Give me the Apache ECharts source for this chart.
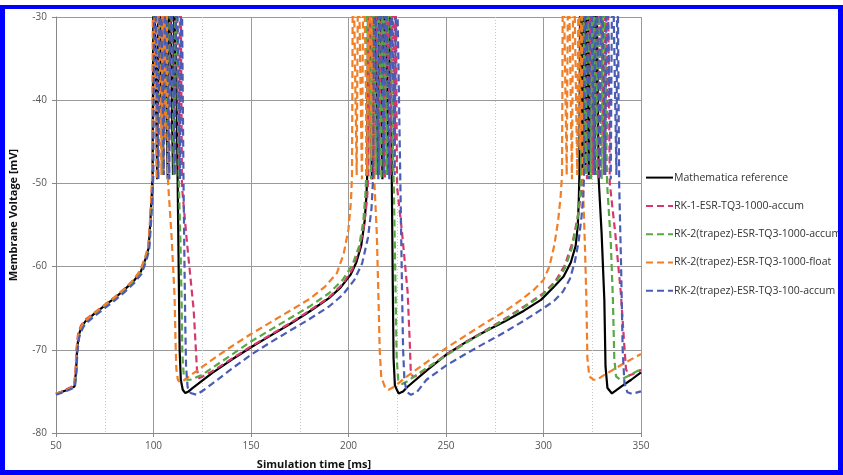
<!DOCTYPE html>
<html>
<head>
<meta charset="utf-8">
<script src="https://cdn.jsdelivr.net/npm/echarts@6/dist/echarts.min.js"></script>
<style>
html,body{margin:0;padding:0;background:#fff;}
#chart{position:absolute;left:0;top:0;width:843px;height:475px;}
#frame{position:absolute;left:0;top:5px;width:843px;height:470px;box-sizing:border-box;border:5px solid #0000ff;border-top-width:4px;pointer-events:none;z-index:10;}
</style>
</head>
<body>
<div id="chart"></div>
<div id="frame"></div>
<script>
// ---- data (time in ms, membrane voltage in mV); spike peaks lie above the visible range ----
const seriesNames = [
  'Mathematica reference',
  'RK-1-ESR-TQ3-1000-accum',
  'RK-2(trapez)-ESR-TQ3-1000-accum',
  'RK-2(trapez)-ESR-TQ3-1000-float',
  'RK-2(trapez)-ESR-TQ3-100-accum'
];
const xTicks = [50, 100, 150, 200, 250, 300, 350];
const yTicks = [-80, -70, -60, -50, -40, -30];

const mathematicaRef = [
  [50,-75.3],[55,-74.9],[59.5,-74.4],[60.3,-72.5],[60.8,-70],[61.6,-68.3],[63,-67.3],[65,-66.6],[70,-65.6],[75,-64.7],[80,-63.8],[85,-62.8],[90,-61.7],[93.5,-60.6],[96,-59],[97.5,-57.8],[98.4,-54.5],[99.1,-51.5],[99.5,-49],
  [100.1,-20],[101.9,-49.5],[102.7,-20],[104.6,-49],[105.4,-20],[107.3,-49.5],[108.1,-20],[110.0,-49],[110.8,-20],[112.4,-50],[112.9,-60],[113.4,-70],[114,-73.6],[115,-74.8],[116.3,-75.2],[118,-75.0],[120,-74.6],
  [130,-72.8],[140,-71.2],[150,-69.7],[160,-68.3],[170,-66.9],[180,-65.4],[190,-63.8],[196,-62.5],[201,-61],[204,-59.5],[206.5,-57.5],[208.3,-54.5],[209.2,-51.5],[209.6,-49],
  [210.2,-20],[212,-49.5],[212.8,-20],[214.7,-49],[215.5,-20],[217.4,-49.5],[218.2,-20],[220.1,-49],[220.9,-20],[222.2,-49.5],[222.7,-62],[223.1,-71],[223.8,-74.3],[225.7,-75.25],[228,-75],[230,-74.5],
  [240,-72.5],[250,-70.6],[260,-69.1],[270,-67.8],[280,-66.6],[290,-65.3],[298.7,-64],[305,-62.5],[310.3,-61.2],[314,-59.5],[316.5,-57.5],[317.6,-55],[318.1,-52],[318.4,-49],
  [318.9,-20],[320.0,-49],[320.5,-20],[321.6,-48.5],[322.1,-20],[323.2,-49],[323.7,-20],[324.8,-48.5],[325.3,-20],[326.4,-49],[326.9,-20],[328.3,-49.5],[329.8,-56],[331.2,-64],[331.8,-72],[332.8,-74.6],[335.1,-75.25],[340,-74.4],[345,-73.6],[350,-72.7]
];

const rk1Accum1000 = [
  [50,-75.3],[55,-74.8],[59.3,-74.3],[60,-72.5],[60.5,-70],[61.3,-68.1],[62.8,-67.1],[65,-66.4],[70,-65.5],[75,-64.6],[80,-63.7],[85,-62.7],[90,-61.6],[93.4,-60.5],[95.9,-58.9],[97.4,-57.7],[98.3,-54.5],[99.1,-51.5],[99.6,-49],
  [100.3,-20],[102.3,-49.5],[103.1,-20],[105.1,-49],[105.9,-20],[107.9,-49.5],[108.7,-20],[110.7,-49],[111.5,-20],[113.1,-48.5],[113.8,-20],[114.6,-50.4],[117.2,-57.2],[120.6,-65.2],[122.3,-72.4],[123.2,-73.4],[124.5,-73.3],[126,-73.1],[130,-72.6],
  [140,-71.1],[150,-69.6],[160,-68.2],[170,-66.8],[180,-65.3],[190,-63.7],[197,-62.1],[202,-60.3],[205.5,-58],[208,-55],[209.5,-52],[210.2,-49],
  [210.8,-20],[212.9,-49.5],[213.7,-20],[215.8,-49],[216.6,-20],[218.7,-49.5],[219.5,-20],[221.6,-49],[222.4,-20],[223.6,-45],[224.0,-20],[224.9,-50.4],[227.5,-56],[230.3,-63],[231.4,-69],[231.9,-72.4],[233,-73.3],[235,-73.1],
  [240,-72.3],[250,-70.6],[260,-69.1],[270,-67.7],[280,-66.3],[290,-64.8],[300,-63.2],[306,-61.8],[311,-59.8],[315,-57],[318,-53.5],[319.3,-51],[319.7,-49],
  [320.2,-20],[322.3,-49.5],[323.1,-20],[325.2,-49],[326,-20],[328.1,-49.5],[328.9,-20],[331,-49],[331.8,-20],[332.4,-45],[332.8,-20],[334,-50],[336.8,-56],[339.6,-63],[341.3,-69],[342.3,-72.3],[343.6,-73.1],[346,-72.9],[350,-72.4]
];

const rk2Accum1000 = [
  [50,-75.3],[55,-74.9],[59.6,-74.4],[60.4,-72.5],[60.9,-70],[61.7,-68.3],[63.2,-67.3],[65,-66.7],[70,-65.7],[75,-64.8],[80,-63.9],[85,-62.9],[90,-61.8],[93.6,-60.7],[96.1,-59.1],[97.6,-57.9],[98.6,-54.5],[99.3,-51.5],[99.7,-49],
  [100.2,-20],[102,-49.5],[102.9,-20],[104.8,-49],[105.7,-20],[107.6,-49.5],[108.5,-20],[110.4,-49],[111.3,-20],[113,-50],[113.8,-57],[114.4,-64],[114.8,-70.5],[115.5,-73],[117,-73.6],[119,-73.6],[125,-73],
  [130,-72.2],[140,-70.6],[150,-69.0],[160,-67.6],[170,-66.2],[180,-64.8],[190,-63.2],[197,-61.6],[202,-59.8],[205.5,-57.5],[207.6,-54.5],[208.6,-51.5],[209.1,-49],
  [209.6,-20],[211.5,-49.5],[212.3,-20],[214.2,-49],[215,-20],[216.9,-49.5],[217.7,-20],[219.6,-49],[220.5,-20],[223.2,-50],[223.8,-58],[224.2,-64],[224.7,-71],[225.5,-73.6],[227.5,-74.1],[230,-73.8],
  [240,-72.2],[250,-70.7],[260,-69.2],[270,-67.8],[280,-66.4],[290,-64.9],[300,-63.3],[306,-62],[311,-60.2],[314.5,-57.8],[317,-55],[318.6,-52],[319.3,-49],
  [319.8,-20],[321.7,-49],[322.5,-20],[324.4,-49.5],[325.2,-20],[327.1,-49],[327.9,-20],[329.8,-49.5],[330.6,-20],[332.6,-50],[334.5,-57],[335.6,-64],[336.3,-71],[337.2,-73.2],[339.4,-73.6],[344,-73.1],[350,-72.3]
];

const rk2Float1000 = [
  [50,-75.3],[55,-74.9],[59.3,-74.4],[60.1,-72.5],[60.6,-70],[61.4,-68.2],[63,-67.2],[65,-66.5],[70,-65.5],[75,-64.6],[80,-63.7],[85,-62.7],[90,-61.5],[93.3,-60.4],[95.8,-58.8],[97.3,-57.5],[98.2,-54.5],[98.9,-51.5],[99.3,-49],
  [99.8,-20],[101.6,-49.5],[102.3,-20],[104.1,-49],[104.8,-20],[106.0,-45],[106.6,-20],[107.5,-50],[109.3,-56.5],[110.8,-63.5],[111.3,-69],[111.7,-72.3],[112.5,-73.6],[113.5,-73.9],[116,-73.6],[120,-72.9],
  [130,-71.2],[140,-69.6],[150,-68.1],[160,-66.7],[170,-65.3],[180,-63.9],[188,-62.4],[194,-60.8],[197.5,-58.5],[200,-55.5],[201.3,-52],[201.8,-49],
  [202.3,-20],[204.2,-49],[205,-20],[206.9,-49.5],[207.7,-20],[209.6,-49],[210.4,-20],[211.9,-47],[212.6,-20],[213.3,-50],[214.5,-56],[215.4,-64],[216,-70],[216.8,-73.3],[218.9,-74.6],[220.6,-74.8],[223,-74.5],[230,-73.2],
  [240,-71.5],[250,-69.8],[260,-68.3],[270,-66.8],[280,-65.4],[288.5,-64],[295,-62.8],[300,-61.6],[303,-60],[305.5,-57.5],[307.5,-54.5],[308.8,-51.5],[309.5,-49],
  [310,-20],[311.9,-49],[312.7,-20],[314.6,-49.5],[315.4,-20],[317.3,-49],[318.1,-20],[318.8,-46],[319.3,-20],[320.2,-50],[321.3,-58],[322,-64],[322.5,-71],[323.5,-73.2],[325.7,-73.6],[327.5,-73.6],[330,-73.2],[340,-71.8],[350,-70.5]
];

const rk2Accum100 = [
  [50,-75.4],[55,-75],[59.7,-74.5],[60.5,-72.6],[61,-70.2],[61.9,-68.5],[63.5,-67.5],[65,-66.9],[70,-65.9],[75,-65.0],[80,-64.1],[85,-63.1],[90,-62],[93.8,-60.9],[96.3,-59.3],[97.8,-58],[98.8,-54.5],[99.5,-51.5],[99.9,-49],
  [100.5,-20],[102.5,-49.5],[103.3,-20],[105.3,-49],[106.1,-20],[108.1,-49.5],[108.9,-20],[110.9,-49],[111.7,-20],[113.6,-49.5],[114.3,-20],[115.4,-50],[115.9,-60],[116.3,-67],[116.7,-72],[117.5,-74.5],[119,-75.2],[122,-75.4],[126,-74.8],[130,-74.1],
  [140,-72.3],[150,-70.6],[160,-69.1],[170,-67.7],[180,-66.3],[190,-64.8],[197,-63.4],[203,-61.6],[207,-59.6],[210,-56.5],[211.8,-53],[212.7,-49],
  [213.3,-20],[215.3,-49.5],[216.1,-20],[218.1,-49],[218.9,-20],[220.9,-49.5],[221.7,-20],[223.7,-49],[224.5,-20],[226.6,-50],[227.4,-62],[228,-70],[228.7,-73.8],[230,-75.1],[232,-75.4],[235,-75.1],
  [240,-73.6],[250,-71.9],[260,-70.5],[267.6,-69.5],[280,-67.9],[290,-66.5],[300,-65.0],[305.5,-64.1],[310,-63],[313.5,-61.5],[316,-59.5],[318,-57],[319.5,-54],[320.4,-51.5],[320.8,-49],
  [321.3,-20],[323.3,-49.5],[324.1,-20],[326.1,-49],[326.9,-20],[328.9,-49.5],[329.7,-20],[331.7,-49],[332.5,-20],[334.5,-49.5],[335.3,-20],[337.4,-49],[337.9,-20],[338.8,-50],[339.8,-60],[340.6,-70],[341.5,-74],[343,-75.1],[345.4,-75.3],[350,-75.0]
];

const seriesData = [mathematicaRef, rk1Accum1000, rk2Accum1000, rk2Float1000, rk2Accum100];

// ---- styles ----
const colors = ['#000000', '#d6386c', '#58a845', '#f07f28', '#4b5cb5'];
const dashed = [false, true, true, true, true];
const FONT = 'Open Sans';

const chart = echarts.init(document.getElementById('chart'), null, {renderer: 'canvas'});
chart.setOption({
  animation: false,
  backgroundColor: '#ffffff',
  grid: {left: 56, right: 202, top: 17, bottom: 42, containLabel: false},
  legend: {
    orient: 'vertical', left: 645, top: 172, padding: 0,
    itemWidth: 27, itemHeight: 14, itemGap: 17.1,
    data: seriesNames,
    itemStyle: {opacity: 0, borderWidth: 0},
    textStyle: {fontFamily: FONT, fontSize: 10.5, color: '#333', padding: [0, 0, 0, -4]}
  },
  xAxis: {
    type: 'value', min: xTicks[0], max: xTicks[xTicks.length - 1], interval: 50,
    name: 'Simulation time [ms]', nameLocation: 'middle', nameGap: 26,
    nameTextStyle: {fontFamily: FONT, fontWeight: 'bold', fontSize: 11, color: '#111', padding: [0, 69, 0, 0]},
    axisLine: {show: true, lineStyle: {color: '#888', width: 1}},
    axisTick: {show: true, length: 4, lineStyle: {color: '#888'}},
    axisLabel: {fontFamily: FONT, fontSize: 10, color: '#555', margin: 8},
    splitLine: {show: true, lineStyle: {color: '#9a9a9a', width: 1}},
    minorTick: {show: false, splitNumber: 2},
    minorSplitLine: {show: true, lineStyle: {color: '#c8c8c8', width: 1, type: [1, 2]}}
  },
  yAxis: {
    type: 'value', min: yTicks[0], max: yTicks[yTicks.length - 1], interval: 10,
    name: 'Membrane Voltage [mV]', nameLocation: 'middle', nameGap: 37,
    nameTextStyle: {fontFamily: FONT, fontWeight: 'bold', fontSize: 11, color: '#111', padding: [0, 0, 0, 20]},
    axisLine: {show: true, lineStyle: {color: '#888', width: 1}},
    axisTick: {show: true, length: 4, lineStyle: {color: '#888'}},
    axisLabel: {fontFamily: FONT, fontSize: 10, color: '#555', margin: 9},
    splitLine: {show: true, lineStyle: {color: '#9a9a9a', width: 1}}
  },
  series: seriesNames.map((name, i) => ({
    name: name,
    type: 'line',
    data: seriesData[i],
    showSymbol: false,
    symbol: 'none',
    clip: true,
    z: 2 + i,
    lineStyle: {color: colors[i], width: 2.2, type: dashed[i] ? [7, 4] : 'solid'},
    itemStyle: {color: colors[i]}
  }))
});
</script>
</body>
</html>
